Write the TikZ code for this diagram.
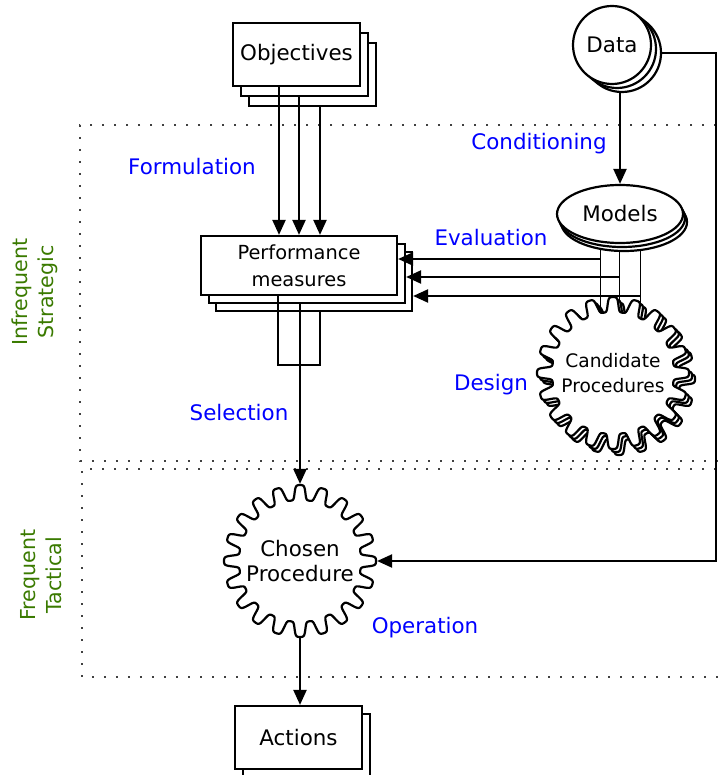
\documentclass[tikz,border=0pt]{standalone}
\usepackage{fontspec}
\setmainfont{DejaVu Sans}
\usetikzlibrary{arrows.meta,shapes.geometric,backgrounds}
\definecolor{sidegreen}{RGB}{58,122,0}

\begin{document}
\begin{tikzpicture}
[x=0.5pt,y=-0.5pt,line width=1.1pt,
  every node/.style={font=\fontsize{10.7}{12.5}\selectfont},
  boxDecorate/.style={shape=rectangle,draw,fill=white,inner sep=0pt,
    minimum width=63.5pt,minimum height=31.5pt},
  measureDecorate/.style={boxDecorate,minimum width=98pt,minimum height=29.5pt},
  dataDecorate/.style={shape=circle,draw,fill=white,inner sep=0pt,minimum size=39pt},
  modelDecorate/.style={shape=ellipse,draw,fill=white,inner sep=0pt,
    minimum width=63pt,minimum height=29pt},
  gearDecorate/.style={draw,fill=white,line join=round},
  procDecorate/.style={shape=circle,inner sep=0pt,minimum size=76pt,align=center},
  lineDecorate/.style={-{Triangle[length=7.5pt,width=6.5pt]}},
  stageDecorate/.style={text=blue},
  zoneDecorate/.style={text=sidegreen,rotate=90,align=center,
    font=\fontsize{10.3}{13}\selectfont},
  regionDecorate/.style={line width=0.8pt,black!75,dash pattern=on 0.8pt off 5.2pt}]
\useasboundingbox (0,0) rectangle (725,775);
%% stacked boxes and discs
\foreach \i/\dx/\dy in {3/16/20, 2/8/10} {
  \node (obj\i) at (296.5+\dx,54.5+\dy) [boxDecorate] {};
}
\node (obj1) at (296.5,54.5) [boxDecorate] {Objectives};
\foreach \i/\dx/\dy in {3/10/8, 2/5/4} {
  \node (data\i) at (612+\dx,45+\dy) [dataDecorate] {};
}
\node (data1) at (612,45) [dataDecorate] {Data};
\foreach \i/\dx/\dy in {3/4/8, 2/2/4} {
  \node (models\i) at (620+\dx,214+\dy) [modelDecorate] {};
}
\node (models1) at (620,214) [modelDecorate] {Models};
\foreach \i/\dx/\dy in {3/15/16, 2/8/8} {
  \node (perf\i) at (299+\dx,265.5+\dy) [measureDecorate] {};
}
\node (perf1) at (299,265.5) [measureDecorate,
  font=\fontsize{9.7}{13.5}\selectfont,align=center] {Performance\\measures};
\node (act2) at (306.5,745.5) [boxDecorate] {};
\node (act1) at (298.5,737.5) [boxDecorate] {Actions};
%% gears
\foreach \gx/\gy in {619/379, 616/376, 613/373, 300/561} {
  \draw[gearDecorate,shift={(\gx,\gy)}] plot[domain=0:360,samples=721,variable=\t]
    ({\t}:{68.5+7.5*tanh(2.2*cos(20*\t))/0.9757}) -- cycle;
}
\node (cand) at (613,373) [procDecorate,font=\fontsize{9.3}{12.5}\selectfont]
  {Candidate\\Procedures};
\node (chosen) at (300,561) [procDecorate] {Chosen\\Procedure};
%% labels
\node (formulation) at (192,167) [stageDecorate] {Formulation};
\node (conditioning) at (539,144) [stageDecorate] {Conditioning};
\node (evaluation) at (491,238) [stageDecorate] {Evaluation};
\node (design) at (491,385) [stageDecorate] {Design};
\node (selection) at (239,413) [stageDecorate] {Selection};
\node (operation) at (425,628) [stageDecorate] {Operation};
\node (strategic) at (34.5,292) [zoneDecorate] {Infrequent\\Strategic};
\node (tactical) at (41.5,575) [zoneDecorate] {Frequent\\Tactical};
%% connectors
\foreach \i/\x in {1/279, 2/299, 3/320} {
  \draw[lineDecorate] (obj\i.south -| \x,0) -- (\x,0 |- perf1.north);
}
\draw[lineDecorate] (data3.south -| models1.north) -- (models1.north);
\foreach \i/\x/\y in {1/600/259, 2/619/277, 3/640/296} {
  \coordinate (eval\i) at (\x,\y);
  \draw[lineDecorate] (eval\i) -- (perf\i.east |- eval\i);
}
\draw (perf1.south -| 278,0) -- (278,365) -| (perf3.south -| 320,0);
\draw[lineDecorate] (perf2.south -| chosen.north) -- (chosen.north);
\draw[lineDecorate] (data3.east) -- ++(54,0) |- (chosen.east);
\draw[lineDecorate] (chosen.south) -- (chosen.south |- act1.north);
\begin{pgfonlayer}{background}
\foreach \i in {1,2,3} {
  \draw (eval\i |- models\i.center) -- (eval\i |- cand.center);
}
\draw[regionDecorate] (740,125) -- (80,125) -- (80,461) -- (740,461);
\draw[regionDecorate] (740,469) -- (82,469) -- (82,677) -- (740,677);
\end{pgfonlayer}
\end{tikzpicture}
\end{document}
